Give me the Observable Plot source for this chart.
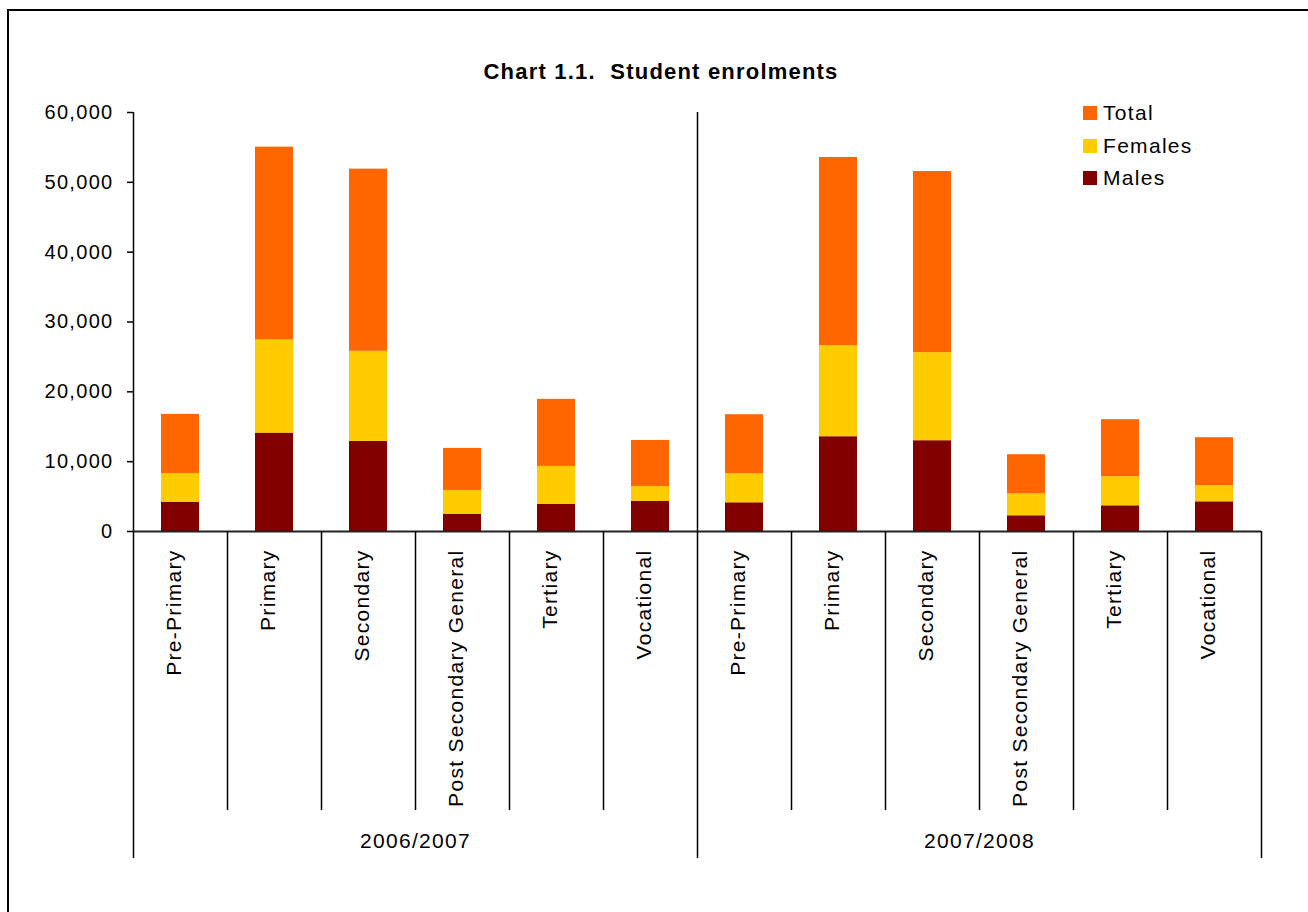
<!DOCTYPE html>
<html>
<head>
<meta charset="utf-8">
<script src="https://cdn.jsdelivr.net/npm/d3@7"></script>
<script src="https://cdn.jsdelivr.net/npm/@observablehq/plot@0.6"></script>
<style>
  html, body { margin: 0; padding: 0; background: #fff; overflow: hidden; }
  #wrap { position: relative; width: 1308px; height: 912px; font-family: "Liberation Sans", Arial, sans-serif; color: #000; }
  #frame { position: absolute; left: 7px; top: 9px; width: 1400px; height: 1000px; border: 2px solid #000; box-sizing: border-box; }
  #title { position: absolute; left: 0; top: 61px; width: 1322px; text-align: center; font-weight: bold; font-size: 22px; line-height: 22px; letter-spacing: 1.2px; white-space: pre; }
  #legend { position: absolute; left: 1083px; top: 102px; }
  .row { position: absolute; left: 0; height: 21px; white-space: nowrap; font-size: 21px; line-height: 21px; letter-spacing: 1.3px; }
  .sw { position: absolute; left: 0; top: 4px; width: 14px; height: 14px; }
  .lab { position: absolute; left: 20px; top: 0; }
  #chart { position: absolute; left: 0; top: 0; }
</style>
</head>
<body>
<div id="wrap">
  <div id="frame"></div>
  <div id="chart"></div>
  <div id="title">Chart 1.1.  Student enrolments</div>
  <div id="legend"></div>
</div>
<script>
// ---- data ----
const groups = ["2006/2007", "2007/2008"];
const categories = ["Pre-Primary", "Primary", "Secondary", "Post Secondary General", "Tertiary", "Vocational"];
const seriesNames = ["Males", "Females", "Total"];          // stacking order, bottom to top
const legendOrder = ["Total", "Females", "Males"];
const seriesColors = ["#800000", "#FFCC00", "#FF6600"];

const males2006 = [4160, 14090, 12900, 2440, 3870, 4300];
const females2006 = [4150, 13330, 12900, 3440, 5450, 2150];
const total2006 = [8460, 27620, 26090, 6020, 9600, 6590];

const males2007 = [4110, 13570, 13000, 2250, 3680, 4250];
const females2007 = [4160, 13040, 12610, 3150, 4160, 2300];
const total2007 = [8450, 26950, 25940, 5590, 8170, 6880];

const yTicks = [0, 10000, 20000, 30000, 40000, 50000, 60000];

// ---- build table ----
const perGroup = [
  {Males: males2006, Females: females2006, Total: total2006},
  {Males: males2007, Females: females2007, Total: total2007}
];
const rows = [];
const slots = [];
groups.forEach((g, gi) => {
  categories.forEach((c, ci) => {
    const i = gi * categories.length + ci;
    slots.push({i, category: c, group: g});
    seriesNames.forEach(s => rows.push({i, group: g, category: c, series: s, value: perGroup[gi][s][ci]}));
  });
});
const nSlots = slots.length;
const innerBounds = d3.range(1, nSlots).filter(k => k % categories.length !== 0);
const groupBounds = d3.range(0, nSlots + 1, categories.length);

const chart = Plot.plot({
  width: 1308,
  height: 912,
  marginLeft: 133,
  marginRight: 47,
  marginTop: 112,
  marginBottom: 381,
  x: {domain: [0, nSlots], label: null},
  y: {domain: [0, 60000], label: null},
  color: {domain: seriesNames, range: seriesColors},
  style: {fontFamily: "'Liberation Sans', Arial, sans-serif", fontSize: "21px", letterSpacing: "1.3px", background: "transparent", color: "#000", overflow: "visible"},
  marks: [
    Plot.rectY(rows, {x1: "i", x2: d => d.i + 1, y: "value", fill: "series", order: seriesNames, insetLeft: 28, insetRight: 28}),
    // y axis
    Plot.axisY({ticks: yTicks, tickFormat: d3.format(","), tickSize: 6, tickPadding: 14, strokeWidth: 1.5, fontSize: 20, label: null}),
    Plot.ruleX([0], {strokeWidth: 1.5}),
    // vertical separator between the two years
    Plot.ruleX([nSlots / 2], {strokeWidth: 1.5}),
    // x axis line
    Plot.ruleY([0], {strokeWidth: 2, stroke: "#222"}),
    // category dividers below the axis
    Plot.axisX({ticks: innerBounds, tickSize: 279, tickFormat: () => "", strokeWidth: 1.5, label: null}),
    Plot.axisX({ticks: groupBounds, tickSize: 327, tickFormat: () => "", strokeWidth: 1.5, label: null}),
    // category labels
    Plot.text(slots, {x: d => d.i + 0.5, text: "category", frameAnchor: "bottom", rotate: -90, textAnchor: "end", dy: 18, fontSize: 21}),
    // group labels
    Plot.text(groups, {x: (d, k) => (k + 0.5) * categories.length, text: d => d, frameAnchor: "bottom", dy: 316, fontSize: 21})
  ]
});
document.getElementById("chart").appendChild(chart);

// ---- legend ----
const legend = document.getElementById("legend");
legendOrder.forEach((s, k) => {
  const row = document.createElement("div");
  row.className = "row";
  row.style.top = (k * 32.5) + "px";
  const sw = document.createElement("div");
  sw.className = "sw";
  sw.style.background = seriesColors[seriesNames.indexOf(s)];
  const lab = document.createElement("span");
  lab.className = "lab";
  lab.textContent = s;
  row.appendChild(sw);
  row.appendChild(lab);
  legend.appendChild(row);
});
</script>
</body>
</html>
